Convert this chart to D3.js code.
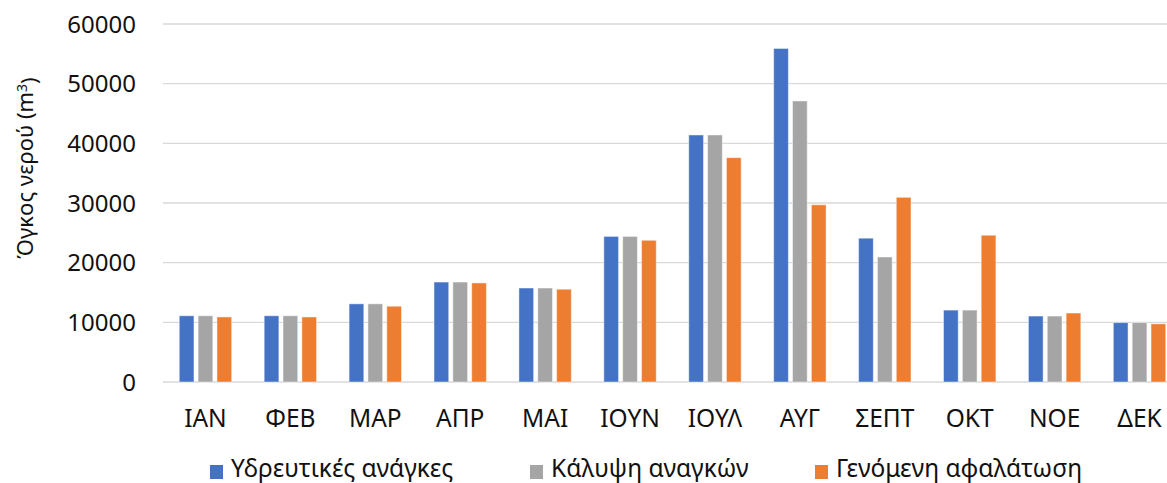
<!DOCTYPE html>
<html>
<head>
<meta charset="utf-8">
<script src="https://cdn.jsdelivr.net/npm/d3@7"></script>
<style>
  html, body { margin: 0; padding: 0; background: #fff; }
  svg { display: block; }
  text { font-family: "Noto Sans", "Open Sans", sans-serif; fill: #111; }
</style>
</head>
<body>
<svg id="chart" width="1167" height="483"></svg>
<script>
// Monthly water volumes (m³)
const months = ["ΙΑΝ", "ΦΕΒ", "ΜΑΡ", "ΑΠΡ", "ΜΑΙ", "ΙΟΥΝ", "ΙΟΥΛ", "ΑΥΓ", "ΣΕΠΤ", "ΟΚΤ", "ΝΟΕ", "ΔΕΚ"];
const seriesNames = ["Υδρευτικές ανάγκες", "Κάλυψη αναγκών", "Γενόμενη αφαλάτωση"];
const demand   = [11100, 11100, 13100, 16750, 15750, 24400, 41400, 55900, 24100, 12050, 11050, 9950];
const coverage = [11100, 11100, 13100, 16750, 15750, 24400, 41400, 47100, 20950, 12050, 11050, 9950];
const desal    = [10900, 10900, 12700, 16600, 15550, 23750, 37600, 29700, 30950, 24600, 11560, 9750];
const yTicks   = [0, 10000, 20000, 30000, 40000, 50000, 60000];
const colors   = ["#4472C4", "#A5A5A5", "#ED7D31"];

const series = [demand, coverage, desal];

const svg = d3.select("#chart");
const margin = { left: 163, right: -15, top: 24, bottom: 101 };
const width = 1167, height = 483;
const plotRight = width - margin.right;
const plotBottom = height - margin.bottom;

const x = d3.scaleBand()
  .domain(months)
  .range([margin.left, plotRight])
  .paddingInner(0.383)
  .paddingOuter(0.1915);

const xs = d3.scaleBand()
  .domain(d3.range(series.length))
  .range([0, x.bandwidth()])
  .paddingInner(0.22);

const y = d3.scaleLinear()
  .domain([0, 60000])
  .range([plotBottom, margin.top]);

// Horizontal gridlines
svg.append("g")
  .selectAll("line")
  .data(yTicks)
  .join("line")
  .attr("x1", margin.left)
  .attr("x2", width)
  .attr("y1", d => y(d))
  .attr("y2", d => y(d))
  .attr("stroke", "#D9D9D9")
  .attr("stroke-width", 1.3);

// Y axis tick labels
svg.append("g")
  .selectAll("text")
  .data(yTicks)
  .join("text")
  .attr("x", 136)
  .attr("y", d => y(d))
  .attr("dy", "0.36em")
  .attr("text-anchor", "end")
  .style("font-size", "24px")
  .text(d => d);

// Bars
const groups = svg.append("g")
  .selectAll("g")
  .data(series)
  .join("g")
  .attr("fill", (d, i) => colors[i]);

groups.selectAll("rect")
  .data((vals, si) => vals.map((v, mi) => ({ v, mi, si })))
  .join("rect")
  .attr("x", d => x(months[d.mi]) + xs(d.si))
  .attr("width", xs.bandwidth())
  .attr("y", d => y(d.v))
  .attr("height", d => y(0) - y(d.v))
  .attr("stroke", "#fff")
  .attr("stroke-opacity", 0.45)
  .attr("stroke-width", 1);

// X axis category labels
svg.append("g")
  .selectAll("text")
  .data(months)
  .join("text")
  .attr("x", d => x(d) + x.bandwidth() / 2)
  .attr("y", 427)
  .attr("text-anchor", "middle")
  .style("font-size", "24.5px")
  .text(d => d);

// Y axis title
svg.append("text")
  .attr("transform", `translate(33,168) rotate(-90)`)
  .attr("text-anchor", "middle")
  .style("font-size", "22px")
  .text("Όγκος νερού (m")
  .append("tspan")
  .attr("dy", "-0.45em")
  .style("font-size", "14px")
  .text("3")
  .append("tspan")
  .attr("dy", "0.45em")
  .style("font-size", "22px")
  .text(")");

// Legend
const legendX = [210, 530, 815];
const legend = svg.append("g")
  .selectAll("g")
  .data(seriesNames)
  .join("g")
  .attr("transform", (d, i) => `translate(${legendX[i]},462)`);

legend.append("rect")
  .attr("y", 3)
  .attr("width", 13)
  .attr("height", 14)
  .attr("fill", (d, i) => colors[i]);

legend.append("text")
  .attr("x", 21)
  .attr("y", 14.5)
  .style("font-size", "24.5px")
  .text(d => d);
</script>
</body>
</html>
